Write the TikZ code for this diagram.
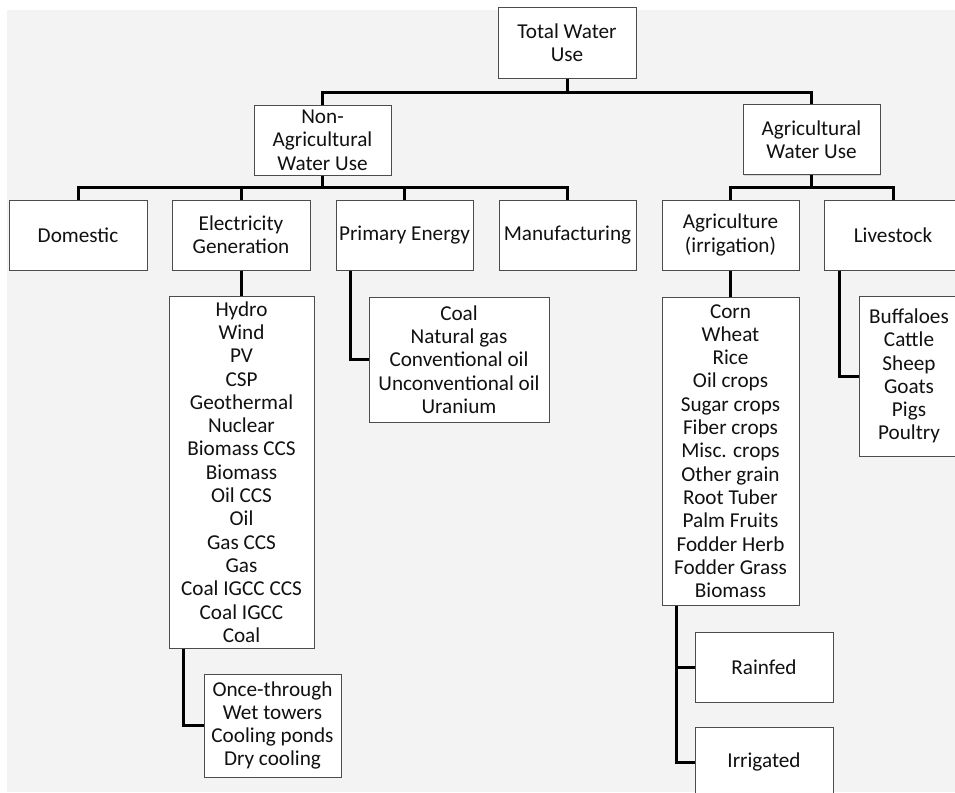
\documentclass[tikz,border=0pt]{standalone}
\usepackage{fontspec}
\setmainfont{Carlito}
\usetikzlibrary{shadows}
\definecolor{bgc}{HTML}{F3F3F3}
\definecolor{txt}{HTML}{111111}
\tikzset{
  wbox/.style={draw=black!70, line width=1pt, fill=white, inner sep=0pt,
    align=center, text=txt, font=\fontsize{21.2}{23.3}\selectfont,
    drop shadow={opacity=0.25, shadow xshift=1pt, shadow yshift=-1pt}},
  conn/.style={line width=3pt, black, line join=miter}
}
\begin{document}
\begin{tikzpicture}[x=1pt,y=-1pt]
\useasboundingbox (0,0) rectangle (955,792);
\clip (0,0) rectangle (955,792);
\fill[white] (0,0) rectangle (955,792);
\fill[bgc] (7,10) rectangle (955,792);

\coordinate (busA) at (0,92);
\coordinate (busB) at (0,187);
\coordinate (xp) at (350,0);
\coordinate (xc) at (183,0);
\coordinate (xl) at (839,0);
\coordinate (xr) at (676,0);

\node[wbox, minimum width=138pt, minimum height=70pt] (total) at (567,43) {Total Water\\Use};
\node[wbox, minimum width=137pt, minimum height=70pt] (nonag) at (322.5,140) {Non-\\Agricultural\\Water Use};
\node[wbox, minimum width=137pt, minimum height=70pt] (ag) at (811.5,139.5) {Agricultural\\Water Use};

\node[wbox, minimum width=138pt, minimum height=70pt] (dom) at (78,235) {Domestic};
\node[wbox, minimum width=138pt, minimum height=70pt] (elec) at (241,235) {Electricity\\Generation};
\node[wbox, minimum width=137pt, minimum height=70pt] (prim) at (404.5,235) {Primary Energy};
\node[wbox, minimum width=137pt, minimum height=70pt] (manu) at (567.5,235) {Manufacturing};
\node[wbox, minimum width=137pt, minimum height=70pt] (agri) at (730.5,235) {Agriculture\\(irrigation)};
\node[wbox, minimum width=138pt, minimum height=70pt] (live) at (893,235) {Livestock};

\node[wbox, minimum width=145pt, minimum height=352pt] (eleclist) at (241.5,472) {Hydro\\Wind\\PV\\CSP\\Geothermal\\Nuclear\\Biomass CCS\\Biomass\\Oil CCS\\Oil\\Gas CCS\\Gas\\Coal IGCC CCS\\Coal IGCC\\Coal};
\node[wbox, minimum width=180pt, minimum height=125pt] (primlist) at (459,359.5) {Coal\\Natural gas\\Conventional oil\\Unconventional oil\\Uranium};
\node[wbox, minimum width=137pt, minimum height=103pt] (cool) at (272.5,725.5) {Once-through\\Wet towers\\Cooling ponds\\Dry cooling};
\node[wbox, minimum width=137pt, minimum height=308pt] (crops) at (730.5,451) {Corn\\Wheat\\Rice\\Oil crops\\Sugar crops\\Fiber crops\\Misc. crops\\Other grain\\Root Tuber\\Palm Fruits\\Fodder Herb\\Fodder Grass\\Biomass};
\node[wbox, minimum width=100pt, minimum height=160pt] (livelist) at (909,376) {Buffaloes\\Cattle\\Sheep\\Goats\\Pigs\\Poultry};
\node[wbox, minimum width=138pt, minimum height=70pt] (rainfed) at (764,667) {Rainfed};
\node[wbox, minimum width=138pt, minimum height=70pt] (irrig) at (764,762) {Irrigated};

% level 1
\draw[conn] (total.south) -- (total.south |- busA);
\draw[conn] (nonag.north) -- (nonag.north |- busA) -- (ag.north |- busA) -- (ag.north);
% non-agricultural
\draw[conn] (nonag.south) -- (nonag.south |- busB);
\draw[conn] (dom.north) -- (dom.north |- busB) -- (manu.north |- busB) -- (manu.north);
\draw[conn] (elec.north) -- (elec.north |- busB);
\draw[conn] (prim.north) -- (prim.north |- busB);
% agricultural
\draw[conn] (ag.south) -- (ag.south |- busB);
\draw[conn] (agri.north) -- (agri.north |- busB) -- (live.north |- busB) -- (live.north);
% sub-lists
\draw[conn] (elec.south) -- (elec.south |- eleclist.north);
\draw[conn] (prim.south -| xp) |- (primlist.west);
\draw[conn] (eleclist.south -| xc) |- (cool.west);
\draw[conn] (agri.south) -- (agri.south |- crops.north);
\draw[conn] (live.south -| xl) |- (livelist.west);
\draw[conn] (crops.south -| xr) |- (irrig.west);
\draw[conn] (crops.south -| xr) |- (rainfed.west);
\end{tikzpicture}
\end{document}
